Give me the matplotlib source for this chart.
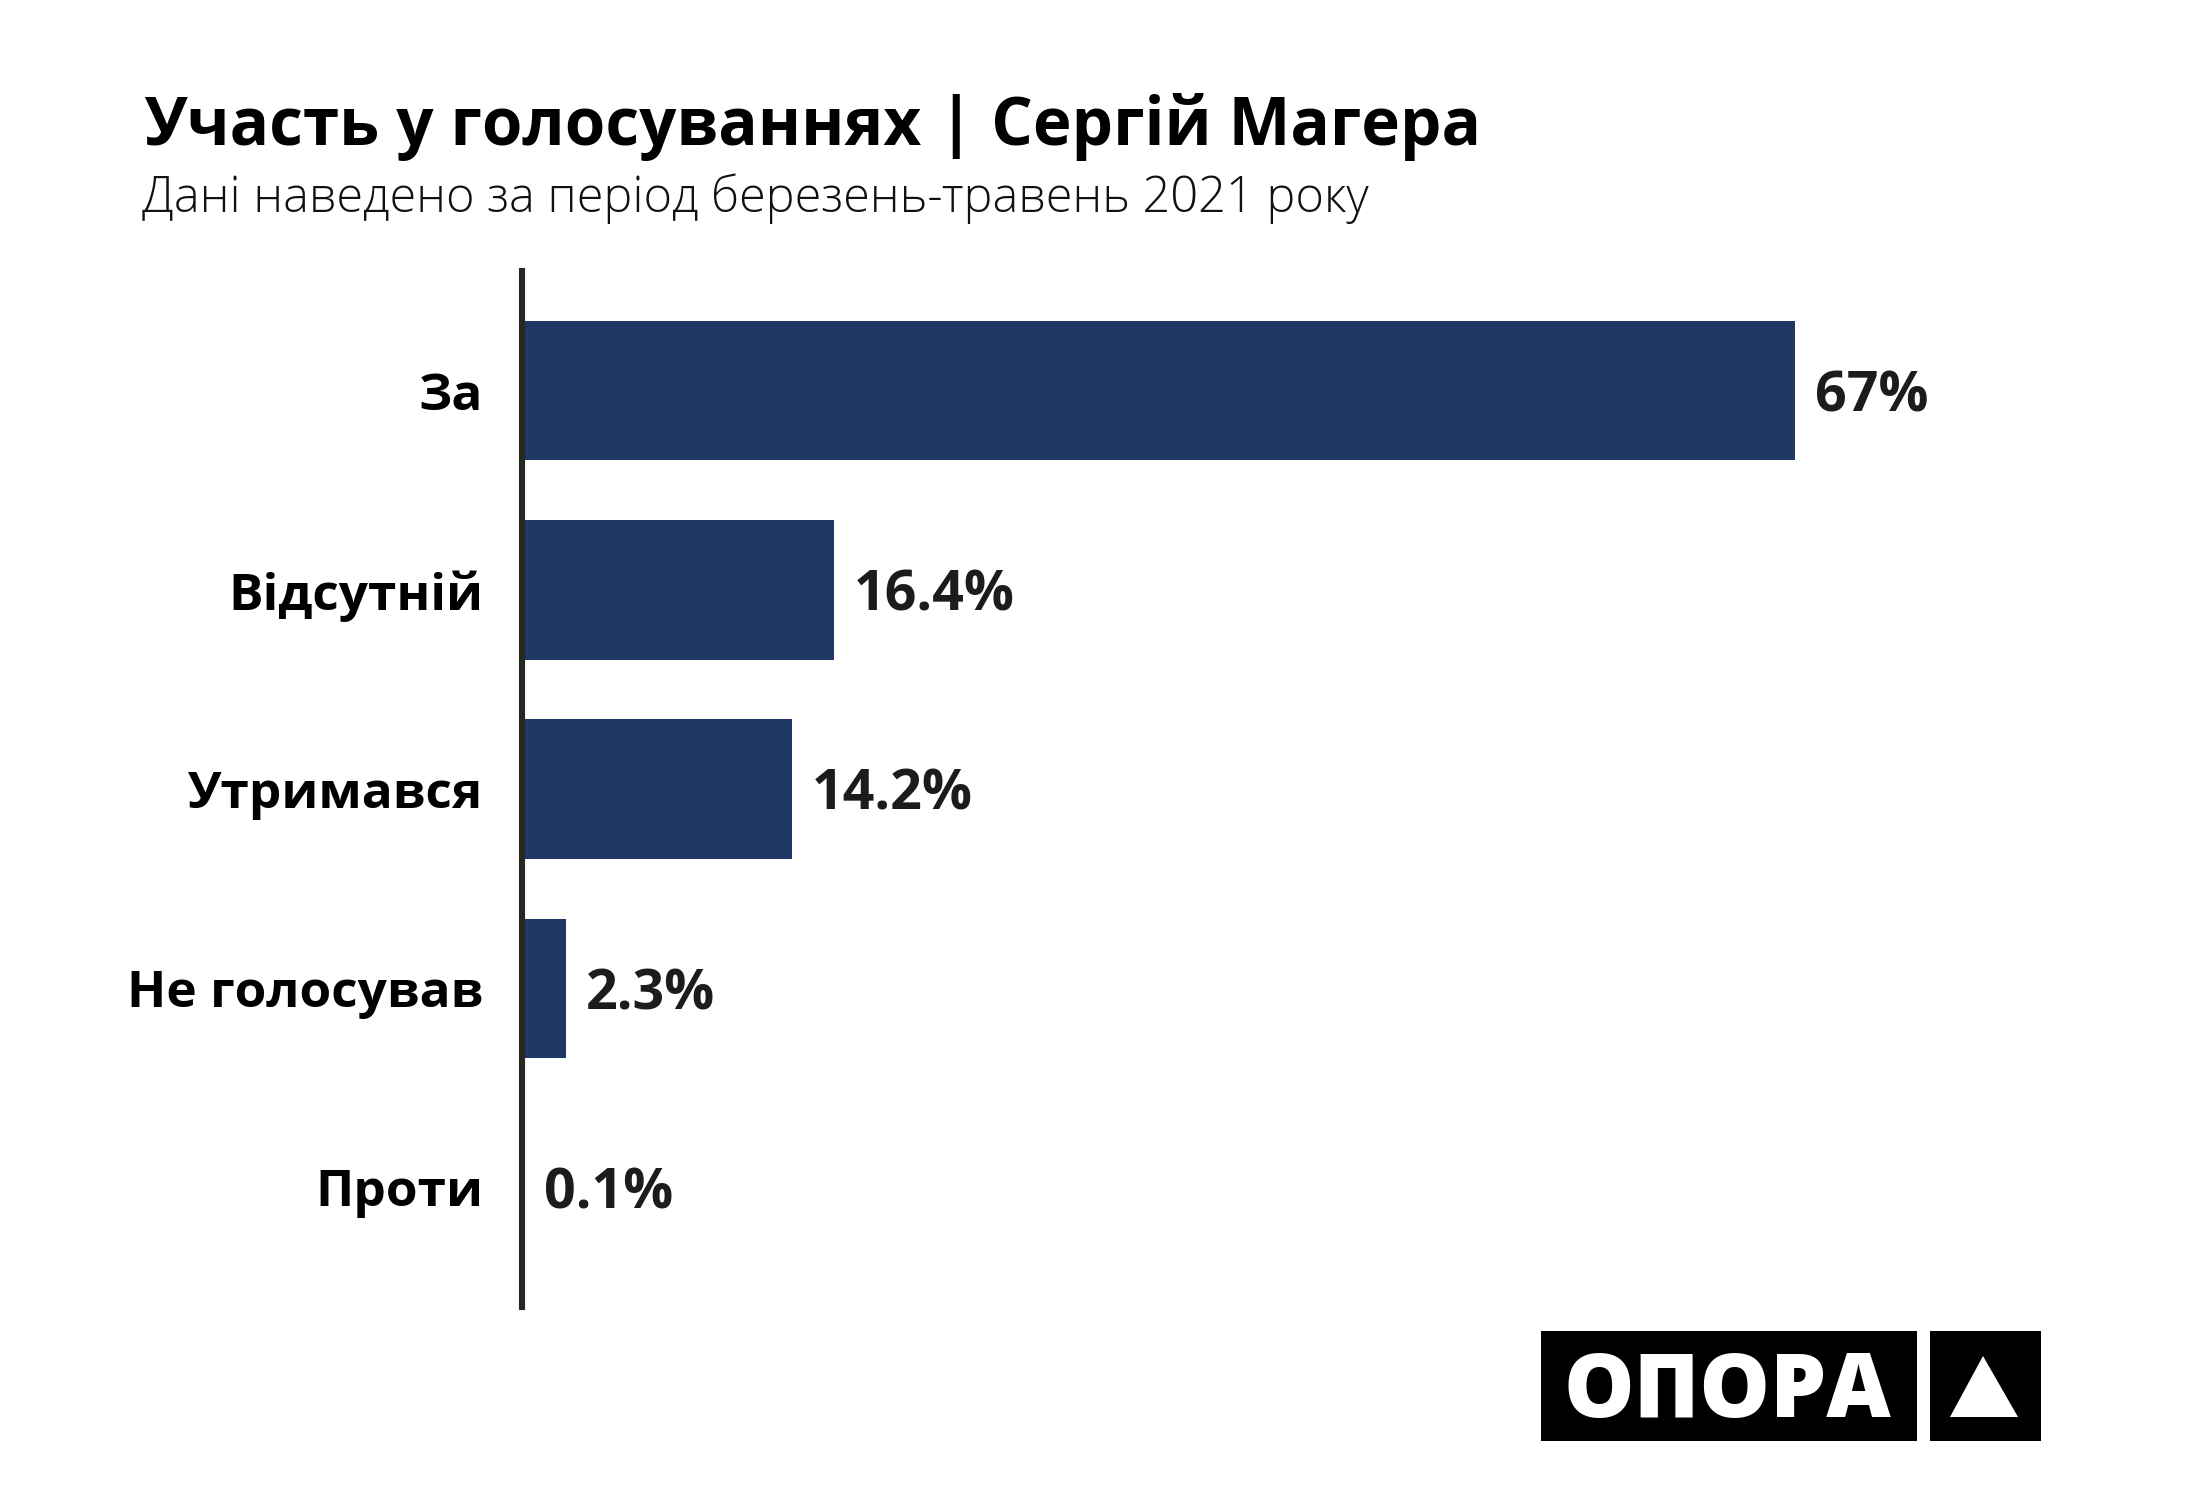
import matplotlib
matplotlib.use("Agg")
import matplotlib.pyplot as plt
from matplotlib.patches import Rectangle, Polygon

# ---- data ----
categories = ["За", "Відсутній", "Утримався", "Не голосував", "Проти"]
values = [67, 16.4, 14.2, 2.3, 0.1]
value_labels = ["67%", "16.4%", "14.2%", "2.3%", "0.1%"]
title = "Участь у голосуваннях | Сергій Магера"
subtitle = "Дані наведено за період березень-травень 2021 року"
logo_text = "ОПОРА"

plt.rcParams['font.family'] = ['Open Sans', 'DejaVu Sans']

W, H = 2200, 1500
DPI = 200
fig = plt.figure(figsize=(W / DPI, H / DPI), dpi=DPI)
fig.patch.set_facecolor("white")

px_per_unit = 19.0
ax_left, ax_top, ax_bottom = 522, 271, 1307
x_max = 80
ax = fig.add_axes([ax_left / W, 1 - ax_bottom / H, x_max * px_per_unit / W, (ax_bottom - ax_top) / H])

bar_color = "#1f3866"
pos = list(range(len(categories)))
ax.barh(pos, values, height=0.70, color=bar_color, zorder=2)
ax.set_ylim(4.6, -0.6)
ax.set_xlim(0, x_max)

for s in ["top", "right", "bottom"]:
    ax.spines[s].set_visible(False)
ax.spines["left"].set_color("#272822")
ax.spines["left"].set_linewidth(2.2)
ax.spines["left"].set_zorder(3)
ax.set_xticks([])
ax.set_yticks(pos, labels=categories)
ax.tick_params(axis="y", length=0, pad=14, labelsize=18.5, labelcolor="#000000")
for lab in ax.get_yticklabels():
    lab.set_fontweight("bold")

for p, v, lbl in zip(pos, values, value_labels):
    ax.annotate(lbl, xy=(v, p), xytext=(7.2, 0), textcoords="offset points",
                ha="left", va="center_baseline", fontsize=20, fontweight="bold",
                color="#1c1c1c")

# title & subtitle
fig.text(144 / W, 1 - 145 / H, title, fontsize=23.6, fontweight="bold", color="#000000",
         ha="left", va="baseline")
fig.text(142 / W, 1 - 212 / H, subtitle, fontsize=17.5, fontweight="light", color="#111111",
         ha="left", va="baseline")

# logo
fig.patches.append(Rectangle((1541 / W, 1 - 1441 / H), (1917 - 1541) / W, 110 / H,
                             transform=fig.transFigure, facecolor="black", edgecolor="none"))
fig.patches.append(Rectangle((1930 / W, 1 - 1441 / H), (2041 - 1930) / W, 110 / H,
                             transform=fig.transFigure, facecolor="black", edgecolor="none"))
fig.patches.append(Polygon([(1983 / W, 1 - 1356 / H), (1950 / W, 1 - 1417 / H), (2018 / W, 1 - 1417 / H)],
                           closed=True, transform=fig.transFigure, facecolor="white", edgecolor="none"))
fig.text(1727 / W, 1 - 1417 / H, logo_text, fontsize=32, fontweight="heavy", color="white",
         ha="center", va="baseline")

fig.savefig("out.png", dpi=DPI, facecolor="white")
